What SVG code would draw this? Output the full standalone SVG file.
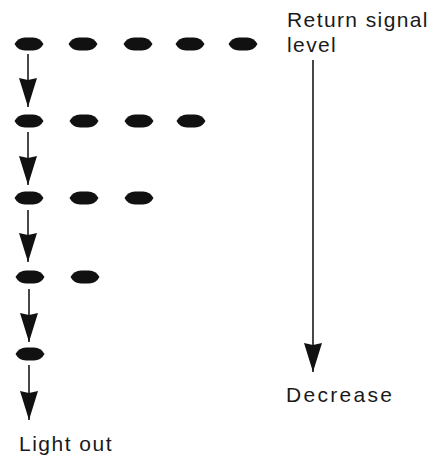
<svg xmlns="http://www.w3.org/2000/svg" width="442" height="456" viewBox="0 0 442 456">
<style>
.dot{fill:#111}
.lbl{font-family:"Liberation Sans",Arial,sans-serif;font-size:21px;fill:#1a1a1a;letter-spacing:1.5px}
.con{stroke:#1a1a1a;stroke-width:1.6;fill:none;marker-end:url(#ah)}
</style>
<defs>
<marker id="ah" markerUnits="userSpaceOnUse" viewBox="-1 -11 31 22" markerWidth="31" markerHeight="22" refX="29" refY="0" orient="auto">
<path d="M0,-9 L29,0 L0,9 L2,0 Z" fill="#111"/>
</marker>
<path id="d" d="M-14.5,0 Q-11,-6.5 -4,-6.5 L4,-6.5 Q11,-6.5 14.5,0 Q11,6.5 4,6.5 L-4,6.5 Q-11,6.5 -14.5,0Z"/>
</defs>
<g id="row1">
<use href="#d" class="dot" x="29" y="44"/>
<use href="#d" class="dot" x="83" y="44"/>
<use href="#d" class="dot" x="138" y="44"/>
<use href="#d" class="dot" x="190" y="44"/>
<use href="#d" class="dot" x="243" y="44"/>
</g>
<g id="row2">
<use href="#d" class="dot" x="29" y="121"/>
<use href="#d" class="dot" x="84" y="121"/>
<use href="#d" class="dot" x="139" y="121"/>
<use href="#d" class="dot" x="191" y="121"/>
</g>
<g id="row3">
<use href="#d" class="dot" x="29" y="198"/>
<use href="#d" class="dot" x="84" y="198"/>
<use href="#d" class="dot" x="139" y="198"/>
</g>
<g id="row4">
<use href="#d" class="dot" x="30" y="277"/>
<use href="#d" class="dot" x="85" y="277"/>
</g>
<g id="row5">
<use href="#d" class="dot" x="30" y="354"/>
</g>
<g id="connectors">
<line class="con" x1="28" y1="54" x2="28" y2="107"/>
<line class="con" x1="28" y1="132" x2="28" y2="185"/>
<line class="con" x1="28" y1="210" x2="28" y2="262"/>
<line class="con" x1="29" y1="289" x2="29" y2="342"/>
<line class="con" x1="29" y1="365" x2="29" y2="420"/>
<line class="con" x1="313" y1="60" x2="313" y2="372"/>
</g>
<g id="labels">
<text class="lbl" x="287" y="27" style="letter-spacing:1.4px">Return signal</text>
<text class="lbl" x="287" y="52" style="letter-spacing:1.4px">level</text>
<text class="lbl" x="286" y="402" style="letter-spacing:2.3px">Decrease</text>
<text class="lbl" x="19" y="451">Light out</text>
</g>
</svg>
